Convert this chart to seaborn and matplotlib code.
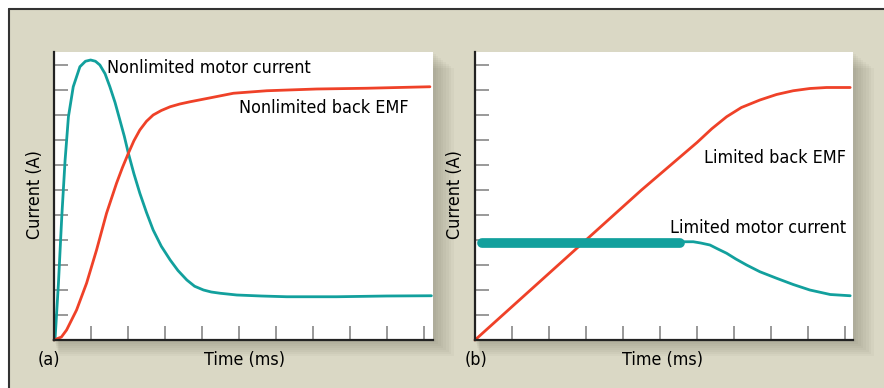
"""Motor current vs back EMF, nonlimited (a) and limited (b)."""

import matplotlib.pyplot as plt
import pandas as pd
import seaborn as sns
from matplotlib import font_manager
from matplotlib.lines import Line2D
from matplotlib.patches import Rectangle

# panel (a): nonlimited
nl_current_t = [0, 0.03, 0.12, 0.21, 0.3, 0.39, 0.52, 0.7, 0.85, 0.99, 1.12, 1.24, 1.38, 1.51,
                1.65, 1.78, 1.9, 2.01, 2.16, 2.32, 2.5, 2.68, 2.9, 3.14, 3.35, 3.59, 3.8, 4.04,
                4.25, 4.49, 4.94, 5.6, 6.29, 7.64, 8.99, 10.2]
nl_current_y = [0, 0.07, 2.27, 4.93, 7.2, 8.93, 10.13, 10.93, 11.15, 11.2, 11.15, 11.0, 10.65, 10.13,
                9.5, 8.8, 8.15, 7.47, 6.65, 5.87, 5.1, 4.4, 3.75, 3.2, 2.78, 2.4, 2.15, 2.0,
                1.92, 1.87, 1.8, 1.76, 1.73, 1.73, 1.76, 1.77]
nl_emf_t = [0, 0.2, 0.34, 0.61, 0.88, 1.15, 1.42, 1.69, 1.85, 2.01, 2.16, 2.32, 2.5, 2.68, 2.9,
            3.14, 3.4, 3.68, 4.2, 4.85, 5.75, 7.1, 8.45, 10.16]
nl_emf_y = [0, 0.12, 0.4, 1.2, 2.27, 3.6, 5.07, 6.27, 6.9, 7.47, 7.97, 8.4, 8.75, 9.0, 9.18,
            9.33, 9.44, 9.53, 9.68, 9.87, 9.97, 10.04, 10.07, 10.13]

# panel (b): limited
lim_emf_t = [0, 3.0, 4.5, 6.0, 6.4, 6.8, 7.2, 7.7, 8.15, 8.6, 9.05, 9.5, 10.14]
lim_emf_y = [0, 4.0, 6.0, 7.9, 8.45, 8.93, 9.3, 9.6, 9.82, 9.97, 10.06, 10.1, 10.1]
lim_clamp_t = [0.18, 5.54]
lim_clamp_y = [3.89, 3.89]
lim_current_t = [5.54, 5.9, 6.1, 6.35, 6.55, 6.8, 7.05, 7.34, 7.7, 8.15, 8.6, 9.05, 9.6, 10.14]
lim_current_y = [3.93, 3.93, 3.88, 3.8, 3.65, 3.47, 3.24, 3.0, 2.73, 2.47, 2.22, 2.0, 1.82, 1.77]

TEAL = "#12a09d"
RED = "#ef4128"
BEIGE = "#dad8c5"

sns.set_style("white")

# prefer a condensed face, like the original typeset figure
fonts = font_manager.fontManager.ttflist
names = {f.name for f in fonts}
stretch = "normal"
if "Liberation Sans Narrow" in names:
    family = "Liberation Sans Narrow"
elif any(f.name == "DejaVu Sans" and f.stretch == "condensed" for f in fonts):
    family, stretch = "DejaVu Sans", "condensed"
elif "Roboto Condensed" in names:
    family = "Roboto Condensed"
else:
    family = "Roboto"
plt.rcParams["font.family"] = [family, "DejaVu Sans"]
plt.rcParams["font.stretch"] = stretch

fig = plt.figure(figsize=(8.84, 3.88), dpi=100)
fig.patch.set_facecolor("white")

# beige frame with dark top/left border
fig.patches.append(Rectangle((9 / 884, 0), 1, 1 - 9 / 388, transform=fig.transFigure,
                             facecolor=BEIGE, edgecolor="none", zorder=-10))
fig.lines.append(Line2D([9 / 884, 1], [1 - 9 / 388] * 2, transform=fig.transFigure, color="#333333", lw=1.5))
fig.lines.append(Line2D([9 / 884] * 2, [0, 1 - 9 / 388], transform=fig.transFigure, color="#333333", lw=1.5))

boxes = [(54, 379), (475, 378)]
top, bottom = 52, 340
axes = []
for left, width in boxes:
    # soft drop shadow
    for i in range(8):
        off = 16 - 2 * i
        fig.patches.append(Rectangle(((left + off * 0.3) / 884, (388 - bottom - off) / 388),
                                     (width + off) / 884, (bottom - top) / 388,
                                     transform=fig.transFigure, facecolor="#555544",
                                     alpha=0.045, edgecolor="none", zorder=-5))
    ax = fig.add_axes([left / 884, (388 - bottom) / 388, width / 884, (bottom - top) / 388])
    ax.set_facecolor("white")
    ax.set_xlim(0, width / 37)
    ax.set_ylim(0, (bottom - top) / 25)
    ax.set_xticks(range(1, 11))
    ax.set_yticks(range(1, 12))
    ax.set_xticklabels([])
    ax.set_yticklabels([])
    ax.tick_params(direction="in", length=10, width=1.2, color="#888888",
                   bottom=True, left=True)
    for s in ["top", "right"]:
        ax.spines[s].set_visible(False)
    for s in ["left", "bottom"]:
        ax.spines[s].set_color("#222222")
        ax.spines[s].set_linewidth(1.6)
    axes.append(ax)

ax_a, ax_b = axes

sns.lineplot(data=pd.DataFrame({"t": nl_current_t, "y": nl_current_y}), x="t", y="y",
             ax=ax_a, color=TEAL, lw=2, sort=False)
sns.lineplot(data=pd.DataFrame({"t": nl_emf_t, "y": nl_emf_y}), x="t", y="y",
             ax=ax_a, color=RED, lw=2, sort=False)

sns.lineplot(data=pd.DataFrame({"t": lim_emf_t, "y": lim_emf_y}), x="t", y="y",
             ax=ax_b, color=RED, lw=2, sort=False)
sns.lineplot(data=pd.DataFrame({"t": lim_clamp_t, "y": lim_clamp_y}), x="t", y="y",
             ax=ax_b, color=TEAL, lw=7, sort=False, solid_capstyle="round")
sns.lineplot(data=pd.DataFrame({"t": lim_current_t, "y": lim_current_y}), x="t", y="y",
             ax=ax_b, color=TEAL, lw=2, sort=False)

for ax in axes:
    ax.set_xlabel("")
    ax.set_ylabel("")
    for ln in ax.lines:
        ln.set_clip_on(False)
        ln.set_solid_joinstyle("round")

txt = dict(fontsize=14, color="black")
texts = [
    fig.text(107 / 884, 1 - 68 / 388, "Nonlimited motor current", ha="left", va="center", **txt),
    fig.text(239 / 884, 1 - 108 / 388, "Nonlimited back EMF", ha="left", va="center", **txt),
    fig.text(846 / 884, 1 - 158 / 388, "Limited back EMF", ha="right", va="center", **txt),
    fig.text(846 / 884, 1 - 228 / 388, "Limited motor current", ha="right", va="center", **txt),
]
for xc in (35, 455):
    texts.append(fig.text(xc / 884, 1 - 195 / 388, "Current (A)", rotation=90,
                          ha="center", va="center", **txt))
for xc in (244, 663):
    texts.append(fig.text(xc / 884, 1 - 360 / 388, "Time (ms)", ha="center", va="center", **txt))
texts.append(fig.text(49 / 884, 1 - 360 / 388, "(a)", ha="center", va="center", **txt))
texts.append(fig.text(476 / 884, 1 - 360 / 388, "(b)", ha="center", va="center", **txt))

# scale the font so the first label spans the same width as in the original (~206 px)
renderer = fig.canvas.get_renderer()
w = texts[0].get_window_extent(renderer).width
size = 14 * 206 / w
for t in texts:
    t.set_fontsize(size)

fig.savefig("out.png", dpi=100)
